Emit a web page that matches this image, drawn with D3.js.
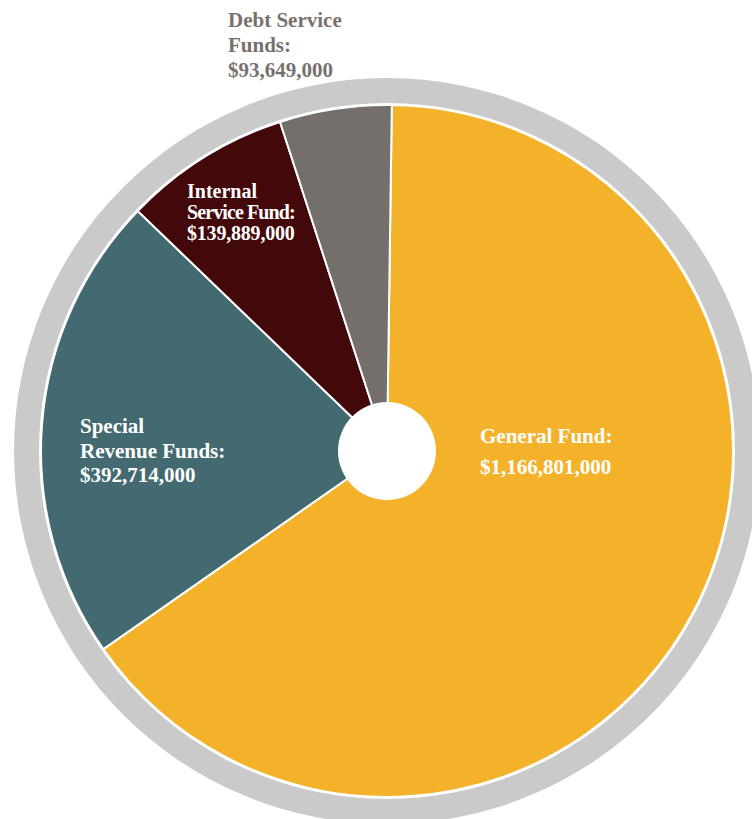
<!DOCTYPE html>
<html>
<head>
<meta charset="utf-8">
<script src="https://cdn.jsdelivr.net/npm/d3@7"></script>
<style>
  html, body { margin: 0; padding: 0; background: #ffffff; }
  svg { display: block; }
  text { font-family: "Liberation Serif", "Times New Roman", serif; font-weight: bold; }
</style>
</head>
<body>
<svg id="chart" width="752" height="819"></svg>
<script>
// ---- data ----
const categories = ["General Fund", "Special Revenue Funds", "Internal Service Fund", "Debt Service Funds"];
const values = [1166801000, 392714000, 139889000, 93649000];
const labelLines = [
  ["General Fund:"],
  ["Special", "Revenue Funds:"],
  ["Internal", "Service Fund:"],
  ["Debt Service", "Funds:"]
];
const colors = ["#F3B229", "#446A71", "#42080A", "#756F6C"];

// ---- layout ----
const W = 752, H = 819;
const cx = 387, cy = 451;
const rPie = 346, rRingIn = 348, rRingOut = 373, rHole = 49;

const svg = d3.select("#chart");
const g = svg.append("g").attr("transform", `translate(${cx},${cy})`);

// outer gray ring
g.append("path")
  .attr("d", d3.arc().innerRadius(rRingIn).outerRadius(rRingOut).startAngle(0).endAngle(2 * Math.PI)())
  .attr("fill", "#CACACA");

const data = categories.map((c, i) => ({ name: c, value: values[i], color: colors[i], lines: labelLines[i] }));

const pie = d3.pie().sort(null).value(d => d.value)
  .startAngle(0.8 * Math.PI / 180)
  .endAngle(0.8 * Math.PI / 180 + 2 * Math.PI);
const arc = d3.arc().innerRadius(0).outerRadius(rPie);

g.selectAll("path.slice")
  .data(pie(data))
  .join("path")
  .attr("class", "slice")
  .attr("d", arc)
  .attr("fill", d => d.data.color)
  .attr("stroke", "#ffffff")
  .attr("stroke-width", 2)
  .attr("stroke-linejoin", "round");

// white centre hole
g.append("circle").attr("r", rHole).attr("fill", "#ffffff");

// ---- labels (absolute page positions) ----
const fmt = d3.format("$,");
const labelLayout = [
  { x: 480, y: 443, size: 21, lh: 31, fill: "#ffffff", spacing: [0, 0] },
  { x: 80,  y: 433, size: 21, lh: 24.5, fill: "#ffffff", spacing: [0, 0, 0] },
  { x: 187, y: 198, size: 20, lh: 21, fill: "#ffffff", spacing: [0, -0.9, -0.2] },
  { x: 228, y: 27,  size: 21, lh: 25, fill: "#77716E", spacing: [0, 0, 0] }
];

data.forEach((d, i) => {
  const L = labelLayout[i];
  const lines = d.lines.concat([fmt(d.value)]);
  const t = svg.append("text")
    .attr("x", L.x).attr("y", L.y)
    .attr("fill", L.fill)
    .attr("font-size", L.size);
  lines.forEach((ln, j) => {
    t.append("tspan")
      .attr("x", L.x)
      .attr("y", L.y + j * L.lh)
      .attr("letter-spacing", (L.spacing[j] || 0) + "px")
      .text(ln);
  });
});
</script>
</body>
</html>
